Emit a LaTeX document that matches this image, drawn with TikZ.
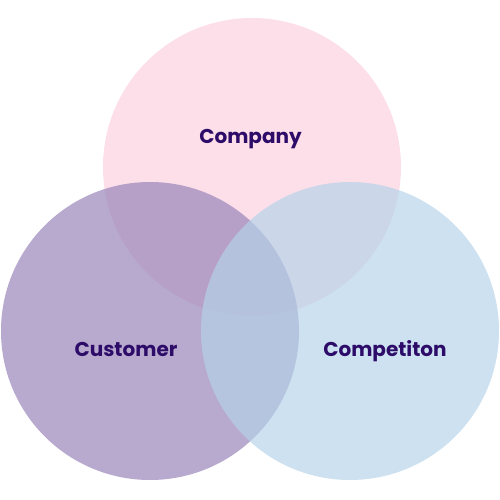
\documentclass[tikz,border=0pt]{standalone}
\usepackage{fontspec}
\setmainfont{Poppins}
\definecolor{pinkc}{RGB}{253,223,233}
\definecolor{custc}{RGB}{156,136,187}
\definecolor{compc}{RGB}{181,211,233}
\definecolor{txtc}{RGB}{45,12,105}
\begin{document}
\begin{tikzpicture}[x=1pt,y=-1pt,
  lbl/.style={text=txtc,font=\bfseries\fontsize{20}{22}\selectfont,inner sep=0pt,anchor=base}]
\useasboundingbox (0,0) rectangle (500,500);
\fill[pinkc] (252,167) circle[radius=149];
\fill[custc,fill opacity=0.72] (150,331) circle[radius=149];
\fill[compc,fill opacity=0.68] (350,331) circle[radius=149];
\node[lbl] (company) at (250.5,143) {Company};
\node[lbl] (customer) at (126,356) {Customer};
\node[lbl] (competition) at (385,356.5) {Competiton};
\end{tikzpicture}
\end{document}
